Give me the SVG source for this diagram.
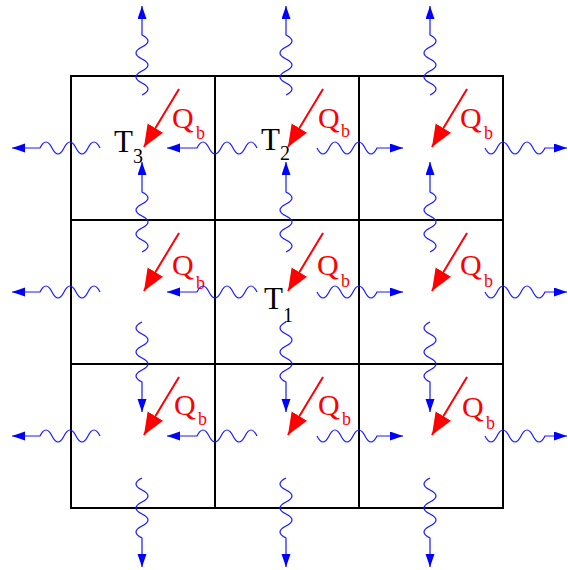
<svg xmlns="http://www.w3.org/2000/svg" width="568" height="570" viewBox="0 0 568 570">
<style>
.grid{stroke:#000;stroke-width:2;fill:none}
.heat{stroke:#ff0000;stroke-width:2;fill:none;marker-end:url(#redHead)}
.flow{stroke:#1a1aff;stroke-width:1.2;fill:none;marker-end:url(#blueHead)}
.q{font-family:"Liberation Serif","Times New Roman",serif;font-size:30px;fill:#ff0000}
.qs{font-family:"Liberation Serif","Times New Roman",serif;font-size:18px;fill:#ff0000}
.t{font-family:"Liberation Serif","Times New Roman",serif;font-size:31px;fill:#000}
.ts{font-family:"Liberation Serif","Times New Roman",serif;font-size:20px;fill:#000}
</style>
<defs>
<marker id="redHead" markerUnits="userSpaceOnUse" markerWidth="24" markerHeight="20" refX="22" refY="9" orient="auto">
<path d="M0,0 L22,9 L0,18 z" fill="#ff0000"/>
</marker>
<marker id="blueHead" markerUnits="userSpaceOnUse" markerWidth="14" markerHeight="10" refX="13" refY="4.5" orient="auto">
<path d="M0,0 L13,4.5 L0,9 z" fill="#0000ff"/>
</marker>
</defs>
<rect width="568" height="570" fill="#fff"/>
<g id="grid" class="grid">
<path d="M71,76 H503 V508 H71 Z"/>
<path d="M215,76 V508 M359,76 V508 M71,220 H503 M71,364 H503"/>
</g>
<g id="cell-1-1"><path class="heat" d="M179,89 L144,147"/><text class="q" x="172" y="128">Q</text><text class="qs" x="196" y="139">b</text><text class="t" x="114" y="152">T</text><text class="ts" x="133" y="163">3</text></g>
<g id="cell-1-2"><path class="heat" d="M323,89 L288,147"/><text class="q" x="318" y="128">Q</text><text class="qs" x="341" y="137">b</text><text class="t" x="261" y="150">T</text><text class="ts" x="280" y="160">2</text></g>
<g id="cell-1-3"><path class="heat" d="M467,89 L432,147"/><text class="q" x="460" y="128">Q</text><text class="qs" x="484" y="139">b</text></g>
<g id="cell-2-1"><path class="heat" d="M179,233 L144,291"/><text class="q" x="172" y="275">Q</text><text class="qs" x="196" y="289">b</text></g>
<g id="cell-2-2"><path class="heat" d="M323,233 L288,291"/><text class="q" x="317" y="275">Q</text><text class="qs" x="341" y="287">b</text><text class="t" x="264" y="309">T</text><text class="ts" x="283" y="322">1</text></g>
<g id="cell-2-3"><path class="heat" d="M467,233 L432,291"/><text class="q" x="460" y="275">Q</text><text class="qs" x="484" y="287">b</text></g>
<g id="cell-3-1"><path class="heat" d="M179,377 L144,435"/><text class="q" x="174" y="415">Q</text><text class="qs" x="198" y="425">b</text></g>
<g id="cell-3-2"><path class="heat" d="M323,377 L288,435"/><text class="q" x="318" y="415">Q</text><text class="qs" x="342" y="425">b</text></g>
<g id="cell-3-3"><path class="heat" d="M467,377 L432,435"/><text class="q" x="462" y="417">Q</text><text class="qs" x="486" y="429">b</text></g>
<g id="connectors" class="flow">
<path d="M100,148 q-6,-12 -12,0 t-12,0 t-12,0 t-12,0 t-12,0 L12,148"/>
<path d="M257,148 q-6,-12 -12,0 t-12,0 t-12,0 t-12,0 t-12,0 L167,148"/>
<path d="M317,148 q6,12 12,0 t12,0 t12,0 t12,0 t12,0 L403,148"/>
<path d="M485,148 q6,12 12,0 t12,0 t12,0 t12,0 t12,0 L567,148"/>
<path d="M100,292 q-6,-12 -12,0 t-12,0 t-12,0 t-12,0 t-12,0 L12,292"/>
<path d="M257,292 q-6,-12 -12,0 t-12,0 t-12,0 t-12,0 t-12,0 L167,292"/>
<path d="M317,292 q6,12 12,0 t12,0 t12,0 t12,0 t12,0 L403,292"/>
<path d="M485,292 q6,12 12,0 t12,0 t12,0 t12,0 t12,0 L567,292"/>
<path d="M100,436 q-6,-12 -12,0 t-12,0 t-12,0 t-12,0 t-12,0 L12,436"/>
<path d="M257,436 q-6,-12 -12,0 t-12,0 t-12,0 t-12,0 t-12,0 L167,436"/>
<path d="M317,436 q6,12 12,0 t12,0 t12,0 t12,0 t12,0 L403,436"/>
<path d="M485,436 q6,12 12,0 t12,0 t12,0 t12,0 t12,0 L567,436"/>
<path d="M142,95 q12,-6 0,-12 t0,-12 t0,-12 t0,-12 t0,-12 L142,6"/>
<path d="M142,252 q12,-6 0,-12 t0,-12 t0,-12 t0,-12 t0,-12 L142,162"/>
<path d="M142,322 q-12,6 0,12 t0,12 t0,12 t0,12 t0,12 L142,412"/>
<path d="M142,478 q-12,6 0,12 t0,12 t0,12 t0,12 t0,12 L142,567"/>
<path d="M286,95 q12,-6 0,-12 t0,-12 t0,-12 t0,-12 t0,-12 L286,6"/>
<path d="M286,252 q12,-6 0,-12 t0,-12 t0,-12 t0,-12 t0,-12 L286,162"/>
<path d="M286,322 q-12,6 0,12 t0,12 t0,12 t0,12 t0,12 L286,412"/>
<path d="M286,478 q-12,6 0,12 t0,12 t0,12 t0,12 t0,12 L286,567"/>
<path d="M430,95 q12,-6 0,-12 t0,-12 t0,-12 t0,-12 t0,-12 L430,6"/>
<path d="M430,252 q12,-6 0,-12 t0,-12 t0,-12 t0,-12 t0,-12 L430,162"/>
<path d="M430,322 q-12,6 0,12 t0,12 t0,12 t0,12 t0,12 L430,412"/>
<path d="M430,478 q-12,6 0,12 t0,12 t0,12 t0,12 t0,12 L430,567"/>
</g>
</svg>
